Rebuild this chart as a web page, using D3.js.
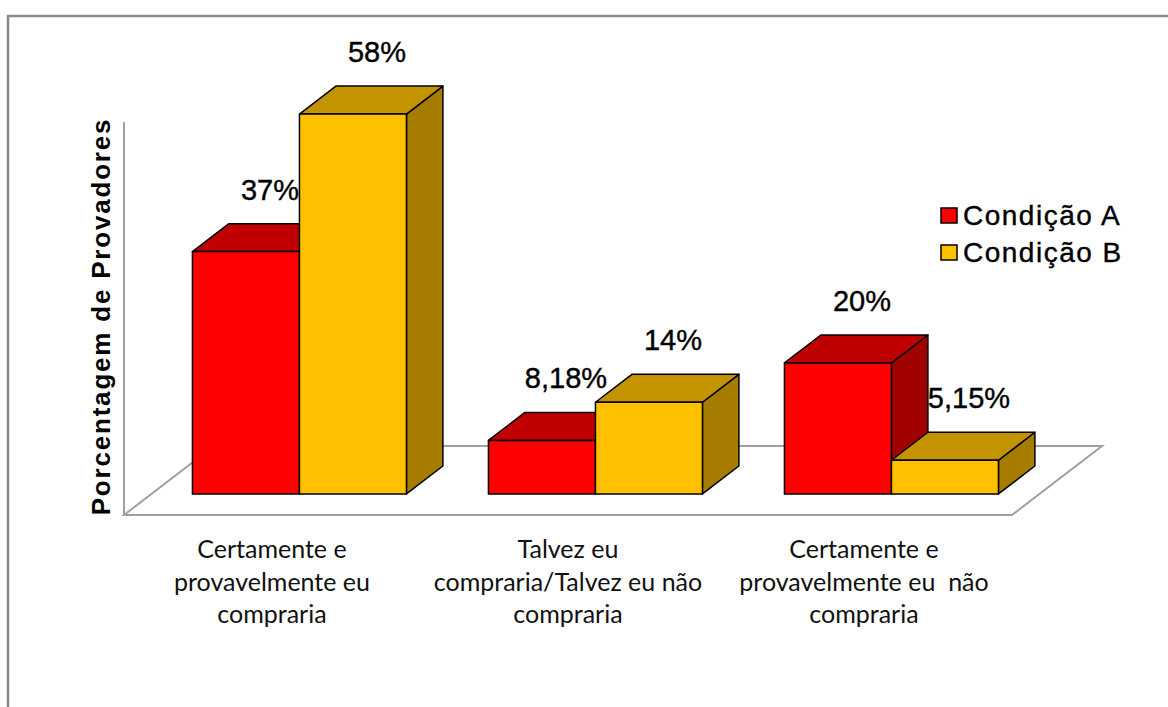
<!DOCTYPE html>
<html><head><meta charset="utf-8">
<script src="https://cdn.jsdelivr.net/npm/d3@7"></script>
<style>
html,body{margin:0;padding:0;background:#fff;}
svg{display:block;}
</style>
</head><body>
<svg id="chart" width="1168" height="707"></svg>
<script>
// ---- data ----
const categories = [
  ["Certamente e", "provavelmente eu", "compraria"],
  ["Talvez eu", "compraria/Talvez eu não", "compraria"],
  ["Certamente e", "provavelmente eu  não", "compraria"]
];
const seriesNames = ["Condição A", "Condição B"];
const seriesA = [37, 8.18, 20];
const seriesB = [58, 14, 5.15];
const valueLabelsA = ["37%", "8,18%", "20%"];
const valueLabelsB = ["58%", "14%", "5,15%"];
const yTitle = "Porcentagem de Provadores";

// ---- styles ----
const colors = {
  "Condição A": {front: "#FF0000", top: "#C00000", side: "#A00000"},
  "Condição B": {front: "#FFC000", top: "#C49400", side: "#A67C00"}
};

const svg = d3.select("#chart");

// outer frame
svg.append("rect").attr("x", 8).attr("y", 16).attr("width", 1300).attr("height", 900)
  .attr("fill", "none").attr("stroke", "#8a8a8a").attr("stroke-width", 2.5);

// scales (at floor front, depth 0)
const x0 = d3.scaleBand().domain(d3.range(categories.length)).range([124, 1012])
  .paddingInner(0.277).paddingOuter(0.1385);
const x1 = d3.scaleBand().domain(seriesNames).range([0, x0.bandwidth()]);
const y = d3.scaleLinear().domain([0, 60]).range([515, 122]);

// depth vector for the floor
const depth = {dx: 90, dy: -69};
const tFront = 0.305, tBack = 0.71;
const fx = depth.dx * tFront, fy = depth.dy * tFront;
const bdx = depth.dx * (tBack - tFront), bdy = depth.dy * (tBack - tFront);

const floorG = svg.append("g");
const [rx0, rx1] = x0.range();
const yb = y(0);
floorG.append("path")
  .attr("d", `M${rx0},${yb} L${rx1},${yb} L${rx1 + depth.dx},${yb + depth.dy} L${rx0 + depth.dx},${yb + depth.dy} Z`)
  .attr("fill", "#fff").attr("stroke", "#a0a0a0").attr("stroke-width", 2).attr("stroke-linejoin", "miter");
// vertical axis line
floorG.append("line").attr("x1", rx0).attr("x2", rx0).attr("y1", y(60)).attr("y2", yb)
  .attr("stroke", "#a0a0a0").attr("stroke-width", 2);

// bars
const bars = [];
categories.forEach((c, i) => {
  bars.push({i, s: seriesNames[0], v: seriesA[i], label: valueLabelsA[i]});
  bars.push({i, s: seriesNames[1], v: seriesB[i], label: valueLabelsB[i]});
});

const barG = svg.append("g");
bars.forEach(b => {
  const xl = x0(b.i) + x1(b.s) + fx;
  const xr = xl + x1.bandwidth();
  const yt = y(b.v) + fy;
  const ybase = y(0) + fy;
  const col = colors[b.s];
  const g = barG.append("g").attr("stroke", "#000").attr("stroke-width", 1.5).attr("stroke-linejoin", "round");
  // side face
  g.append("path").attr("fill", col.side)
    .attr("d", `M${xr},${yt} L${xr + bdx},${yt + bdy} L${xr + bdx},${ybase + bdy} L${xr},${ybase} Z`);
  // top face
  g.append("path").attr("fill", col.top)
    .attr("d", `M${xl},${yt} L${xl + bdx},${yt + bdy} L${xr + bdx},${yt + bdy} L${xr},${yt} Z`);
  // front face
  g.append("rect").attr("fill", col.front)
    .attr("x", xl).attr("y", yt).attr("width", xr - xl).attr("height", ybase - yt);
});

// value labels
svg.append("g").selectAll("text").data(bars).join("text")
  .attr("x", b => x0(b.i) + x1(b.s) + fx + x1.bandwidth() / 2 + 24)
  .attr("y", b => y(b.v) + fy - 52)
  .attr("text-anchor", "middle")
  .attr("font-family", "Liberation Sans, Arial, sans-serif")
  .attr("font-size", 29)
  .attr("fill", "#000")
  .attr("stroke", "#000").attr("stroke-width", 0.4)
  .text(b => b.label);

// category labels
const catG = svg.append("g");
categories.forEach((lines, i) => {
  const t = catG.append("text")
    .attr("x", x0(i) + x0.bandwidth() / 2)
    .attr("y", 558)
    .attr("text-anchor", "middle")
    .attr("font-family", "Lato, sans-serif")
    .attr("font-size", 25)
    .attr("fill", "#111")
    .style("white-space", "pre");
  lines.forEach((ln, k) => {
    t.append("tspan").attr("x", x0(i) + x0.bandwidth() / 2).attr("dy", k === 0 ? 0 : 32.5).text(ln);
  });
});

// y-axis title
svg.append("text")
  .attr("transform", `translate(110, ${(y(60) + yb) / 2 - 2}) rotate(-90)`)
  .attr("text-anchor", "middle")
  .attr("font-family", "Liberation Sans, Arial, sans-serif")
  .attr("font-weight", "bold")
  .attr("font-size", 26)
  .attr("letter-spacing", 1.8)
  .attr("fill", "#000")
  .text(yTitle);

// legend
const leg = svg.append("g").attr("transform", "translate(941, 208)");
seriesNames.forEach((s, k) => {
  const g = leg.append("g").attr("transform", `translate(0, ${k * 37})`);
  g.append("rect").attr("x", 0).attr("y", 0).attr("width", 16).attr("height", 15)
    .attr("fill", colors[s].front).attr("stroke", "#000").attr("stroke-width", 1.5);
  g.append("text").attr("x", 22).attr("y", 17)
    .attr("font-family", "Liberation Sans, Arial, sans-serif")
    .attr("font-size", 28)
    .attr("letter-spacing", 1.5)
    .attr("fill", "#000")
    .attr("stroke", "#000").attr("stroke-width", 0.4)
    .text(s);
});
</script>
</body></html>
